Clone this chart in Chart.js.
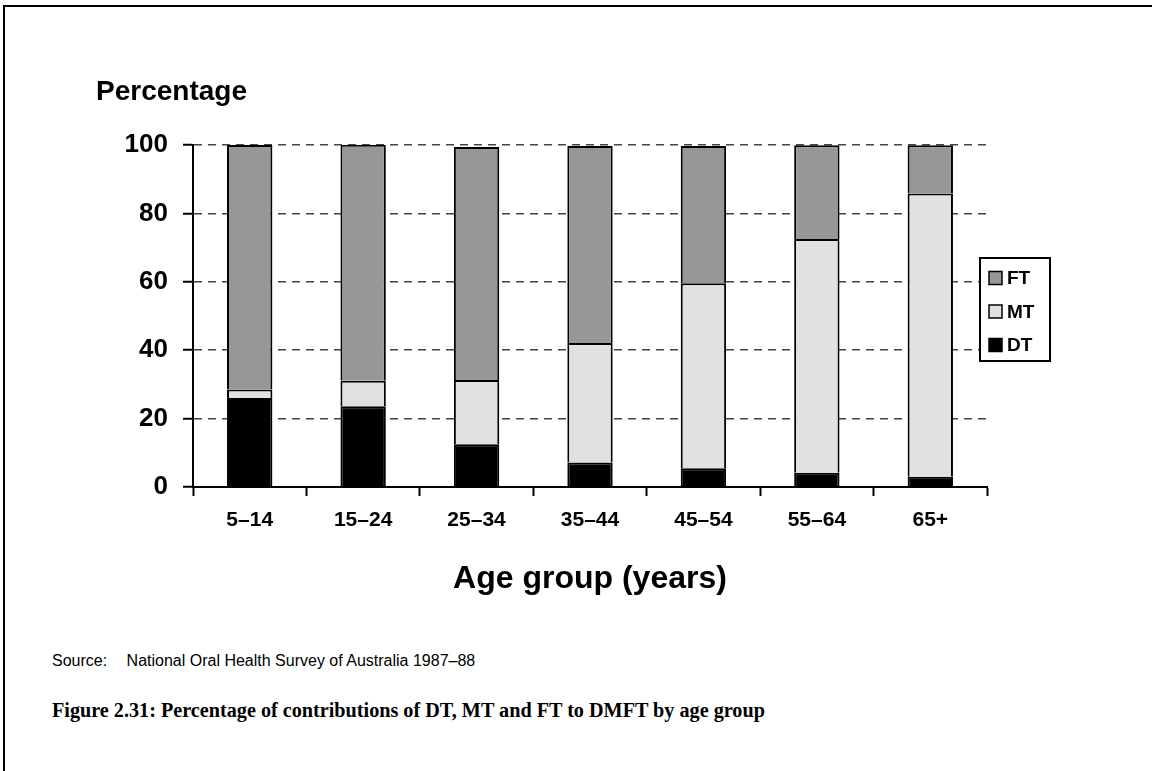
<!DOCTYPE html>
<html>
<head>
<meta charset="utf-8">
<script src="https://cdn.jsdelivr.net/npm/chart.js@4/dist/chart.umd.min.js"></script>
<style>
    body { margin: 0; background: #fff; font-family: Arial, "Liberation Sans", sans-serif; }
    .page { position: relative; width: 1152px; height: 771px; overflow: hidden; }
    .frame { position: absolute; left: 3px; top: 5px; right: -5px; bottom: -5px; border-top: 2px solid #000; border-left: 2px solid #000; }
    #chart { position: absolute; left: 0; top: 0; }
    .ylabel { position: absolute; left: 96px; top: 75px; font-weight: bold; font-size: 28px; color: #000; }
    .source { position: absolute; left: 52px; top: 652px; font-size: 16px; color: #000; }
    .source span { margin-right: 15px; }
    .caption { position: absolute; left: 52px; top: 699px; font-family: "Liberation Serif", "Times New Roman", serif; font-weight: bold; font-size: 20.2px; color: #000; }
</style>
</head>
<body>
<div class="page">
    <div class="frame"></div>
    <canvas id="chart" width="1152" height="620"></canvas>
    <div class="ylabel">Percentage</div>
    <div class="source"><span>Source:</span> National Oral Health Survey of Australia 1987–88</div>
    <div class="caption">Figure 2.31: Percentage of contributions of DT, MT and FT to DMFT by age group</div>
</div>
<script>
const ageGroups = ['5–14', '15–24', '25–34', '35–44', '45–54', '55–64', '65+'];
const dtValues = [26.0, 23.6, 12.5, 7.2, 5.5, 4.2, 3.0];
const mtValues = [2.5, 7.5, 18.8, 34.9, 54.1, 68.3, 82.8];
const ftValues = [71.5, 69.0, 68.1, 57.6, 40.1, 27.4, 14.1];
const yTicks = [0, 20, 40, 60, 80, 100];

// boxed legend on the right, FT on top
const boxLegend = {
    id: 'boxLegend',
    afterDraw(chart) {
        const ctx = chart.ctx;
        const x = 980, y = 258, w = 70, h = 103;
        ctx.save();
        ctx.fillStyle = '#fff';
        ctx.fillRect(x, y, w, h);
        ctx.lineWidth = 2;
        ctx.strokeStyle = '#000';
        ctx.strokeRect(x, y, w, h);
        const items = chart.data.datasets.slice().reverse();
        ctx.font = 'bold 19px Arial, "Liberation Sans", sans-serif';
        ctx.textBaseline = 'middle';
        items.forEach((ds, i) => {
            const cy = y + 20 + i * 33.5;
            ctx.fillStyle = ds.backgroundColor;
            ctx.fillRect(x + 9, cy - 6.5, 13, 13);
            ctx.lineWidth = 1.5;
            ctx.strokeRect(x + 9, cy - 6.5, 13, 13);
            ctx.fillStyle = '#000';
            ctx.fillText(ds.label, x + 27, cy + 1);
        });
        ctx.restore();
    }
};

const ctx = document.getElementById('chart');
new Chart(ctx, {
    type: 'bar',
    data: {
        labels: ageGroups,
        datasets: [
            { label: 'DT', data: dtValues, backgroundColor: '#000000' },
            { label: 'MT', data: mtValues, backgroundColor: '#e1e1e1' },
            { label: 'FT', data: ftValues, backgroundColor: '#979797' }
        ]
    },
    options: {
        responsive: false,
        animation: false,
        layout: { padding: { left: 0, right: 165, top: 145, bottom: 13 } },
        datasets: {
            bar: {
                borderColor: '#000',
                borderWidth: 2,
                barPercentage: 0.4,
                categoryPercentage: 1
            }
        },
        plugins: {
            legend: { display: false },
            tooltip: { enabled: false }
        },
        scales: {
            x: {
                stacked: true,
                afterFit: s => { s.height = 120; },
                border: { display: true, color: '#000', width: 2 },
                grid: {
                    display: true,
                    offset: true,
                    drawOnChartArea: false,
                    drawTicks: true,
                    tickLength: 9,
                    tickColor: '#000',
                    tickWidth: 2
                },
                ticks: {
                    color: '#000',
                    padding: 12,
                    maxRotation: 0,
                    font: { family: 'Arial, "Liberation Sans", sans-serif', size: 21, weight: 'bold' }
                },
                title: {
                    display: true,
                    text: 'Age group (years)',
                    color: '#000',
                    padding: { top: 0, bottom: 9 },
                    font: { family: 'Arial, "Liberation Sans", sans-serif', size: 32, weight: 'bold' }
                }
            },
            y: {
                stacked: true,
                min: 0,
                max: 100,
                afterFit: s => { s.width = 193; },
                afterBuildTicks: s => { s.ticks = yTicks.map(v => ({ value: v })); },
                border: { display: true, color: '#000', width: 2, dash: [8, 6] },
                grid: {
                    color: '#444',
                    lineWidth: 1.5,
                    tickBorderDash: [],
                    tickLength: 10,
                    tickColor: '#000',
                    tickWidth: 2
                },
                ticks: {
                    color: '#000',
                    padding: 15,
                    font: { family: 'Arial, "Liberation Sans", sans-serif', size: 26, weight: 'bold' }
                }
            }
        }
    },
    plugins: [boxLegend]
});
</script>
</body>
</html>
